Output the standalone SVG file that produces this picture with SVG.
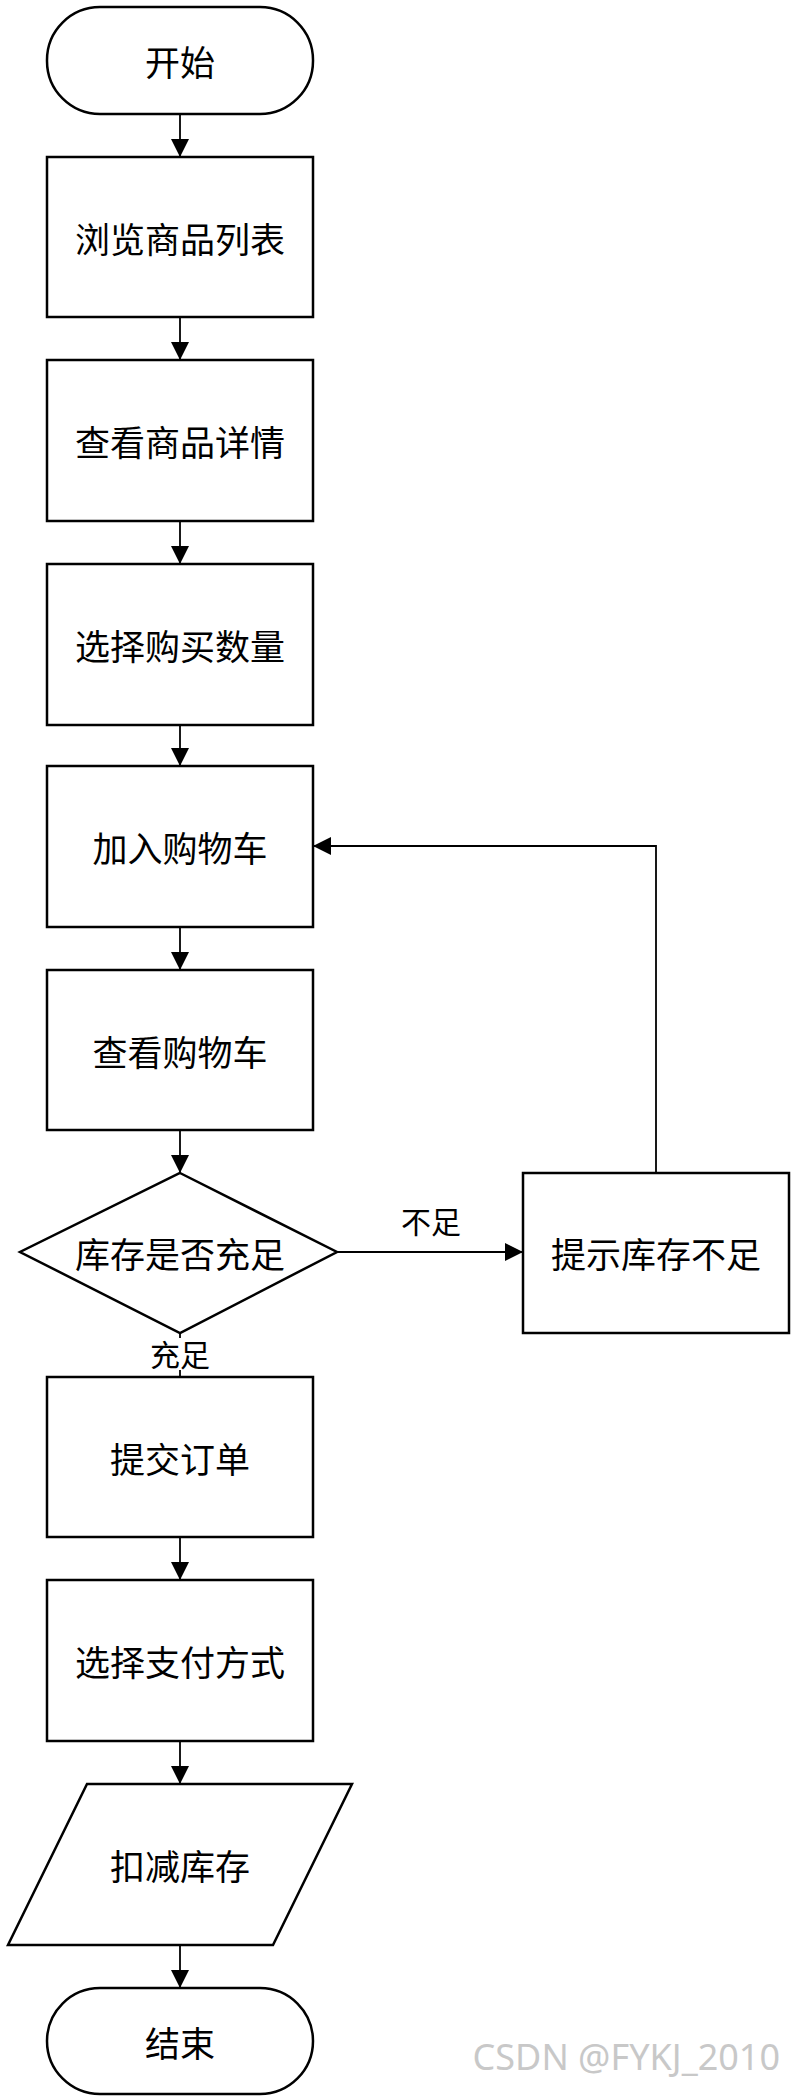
<svg xmlns="http://www.w3.org/2000/svg" width="800" height="2100" viewBox="0 0 800 2100">
<style>
.s{fill:#fff;stroke:#000;stroke-width:2.5}
.t{font-family:"Noto Sans CJK SC",sans-serif;font-size:35px;text-anchor:middle;dominant-baseline:central;fill:#000}
.l{font-family:"Noto Sans CJK SC",sans-serif;font-size:30px;text-anchor:middle;dominant-baseline:central;fill:#000}
</style>
<defs><marker id="b" viewBox="0 0 10 10" markerWidth="22" markerHeight="18" refX="10" refY="5" orient="auto" markerUnits="userSpaceOnUse"><path d="M0,0L10,5L0,10z" fill="#000"/></marker></defs>
<rect width="800" height="2100" fill="#fff"/>
<g id="connectors" stroke="#000" stroke-width="1.8" fill="none">
<path d="M180 114V157" marker-end="url(#b)"/>
<path d="M180 317V360" marker-end="url(#b)"/>
<path d="M180 521V564" marker-end="url(#b)"/>
<path d="M180 725V766" marker-end="url(#b)"/>
<path d="M180 927V970" marker-end="url(#b)"/>
<path d="M180 1130V1173" marker-end="url(#b)"/>
<path d="M337 1252H523" marker-end="url(#b)"/>
<path d="M656 1173V846H313" marker-end="url(#b)"/>
<path d="M180 1333V1377"/>
<path d="M180 1537V1580" marker-end="url(#b)"/>
<path d="M180 1741V1784" marker-end="url(#b)"/>
<path d="M180 1945V1988" marker-end="url(#b)"/>
</g>
<g id="start"><rect class="s" x="47" y="7" width="266" height="107" rx="53"/><text class="t" x="180" y="60">开始</text></g>
<g id="n1"><rect class="s" x="47" y="157" width="266" height="160"/><text class="t" x="180" y="237">浏览商品列表</text></g>
<g id="n2"><rect class="s" x="47" y="360" width="266" height="161"/><text class="t" x="180" y="440">查看商品详情</text></g>
<g id="n3"><rect class="s" x="47" y="564" width="266" height="161"/><text class="t" x="180" y="644">选择购买数量</text></g>
<g id="n4"><rect class="s" x="47" y="766" width="266" height="161"/><text class="t" x="180" y="846">加入购物车</text></g>
<g id="n5"><rect class="s" x="47" y="970" width="266" height="160"/><text class="t" x="180" y="1050">查看购物车</text></g>
<g id="d"><polygon class="s" points="180,1173 337,1252 180,1333 20,1252"/><text class="t" x="180" y="1252">库存是否充足</text></g>
<g id="warn"><rect class="s" x="523" y="1173" width="266" height="160"/><text class="t" x="656" y="1252">提示库存不足</text></g>
<text class="l" x="431" y="1220">不足</text>
<rect x="150" y="1338" width="60" height="32" fill="#fff"/>
<text class="l" x="180" y="1353">充足</text>
<g id="n6"><rect class="s" x="47" y="1377" width="266" height="160"/><text class="t" x="180" y="1457">提交订单</text></g>
<g id="n7"><rect class="s" x="47" y="1580" width="266" height="161"/><text class="t" x="180" y="1660">选择支付方式</text></g>
<g id="n8"><polygon class="s" points="87,1784 352,1784 273,1945 8,1945"/><text class="t" x="180" y="1864">扣减库存</text></g>
<g id="end"><rect class="s" x="47" y="1988" width="266" height="106" rx="53"/><text class="t" x="180" y="2041">结束</text></g>
<text x="780" y="2070" font-family="Noto Sans, sans-serif" font-size="36" fill="#c8c8c8" text-anchor="end">CSDN @FYKJ_2010</text>
</svg>
